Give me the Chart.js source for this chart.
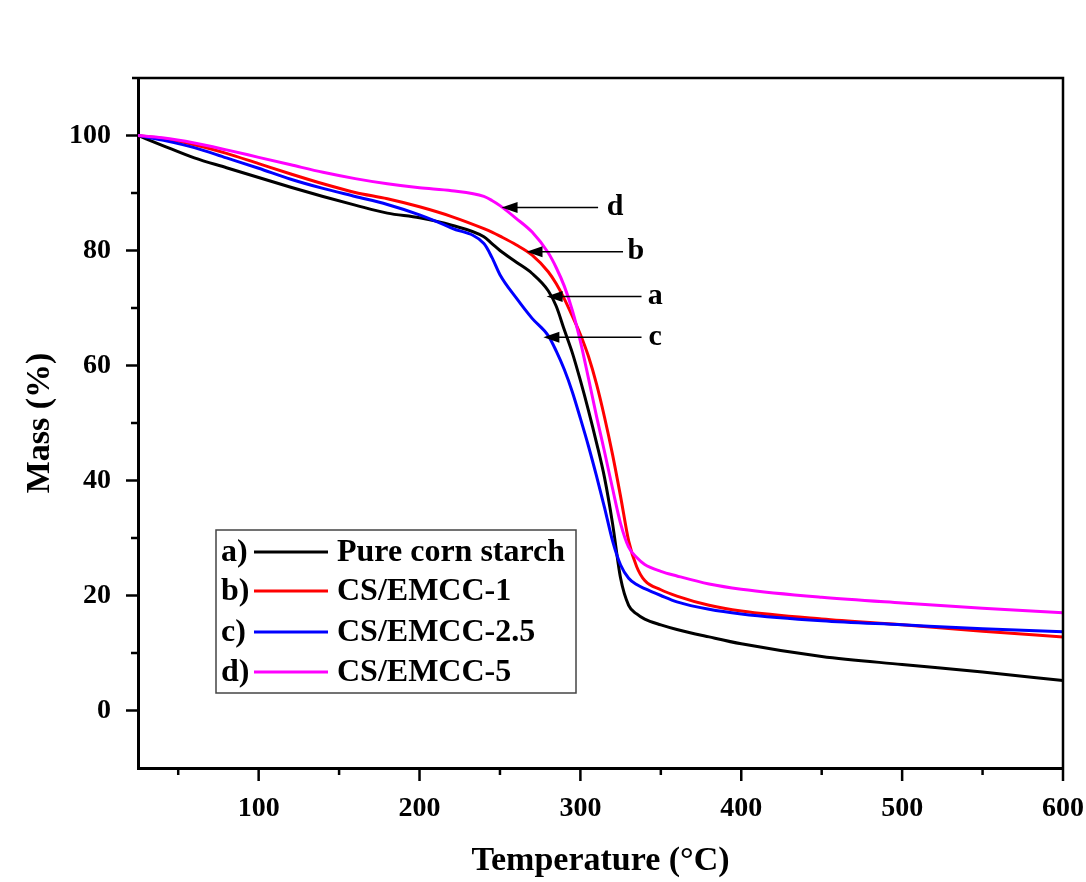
<!DOCTYPE html>
<html>
<head>
<meta charset="utf-8">
<script src="https://cdn.jsdelivr.net/npm/chart.js@4.4.1/dist/chart.umd.min.js"></script>
<style>
  html, body { margin: 0; padding: 0; background: #ffffff; }
  #wrap { width: 1086px; height: 882px; position: relative; }
</style>
</head>
<body>
<div id="wrap"><canvas id="c" width="1086" height="882"></canvas></div>
<script>
// ---- data ----
const temps = [25, 40, 60, 80, 100, 120, 140, 160, 180, 200, 220, 240, 245, 250, 260, 270, 280, 285, 290, 295, 300, 305, 310, 315, 320, 325, 330, 335, 340, 350, 360, 380, 400, 450, 500, 550, 600];
const massPure = [100, 98.3, 96.1, 94.4, 92.7, 91.0, 89.4, 87.9, 86.5, 85.7, 84.4, 82.4, 81.2, 80.0, 78.0, 76.0, 73.0, 70.3, 66.2, 62.2, 57.4, 52.2, 46.6, 40.5, 32.5, 23.0, 18.3, 16.8, 15.9, 14.9, 14.1, 12.8, 11.6, 9.4, 8.0, 6.7, 5.2];
const massEmcc1 = [100, 99.5, 98.4, 96.9, 95.1, 93.3, 91.6, 90.1, 89.0, 87.6, 85.9, 83.8, 83.2, 82.5, 81.0, 79.2, 76.3, 74.2, 71.6, 68.6, 65.4, 61.6, 56.8, 51.0, 44.5, 37.2, 29.5, 25.0, 22.6, 21.0, 19.9, 18.3, 17.3, 15.9, 14.9, 13.8, 12.8];
const massEmcc25 = [100, 99.2, 97.9, 96.1, 94.3, 92.4, 90.8, 89.4, 88.0, 86.2, 83.9, 81.2, 78.8, 75.8, 71.8, 68.2, 65.2, 62.5, 59.3, 55.4, 50.8, 46.0, 40.8, 35.3, 29.5, 25.3, 23.0, 21.9, 21.2, 20.0, 18.9, 17.6, 16.8, 15.6, 14.9, 14.2, 13.7];
const massEmcc5 = [100, 99.6, 98.7, 97.5, 96.2, 94.9, 93.6, 92.5, 91.6, 90.9, 90.4, 89.4, 88.7, 87.8, 85.6, 83.2, 79.6, 77.0, 73.8, 69.6, 64.2, 57.8, 51.2, 45.0, 38.6, 32.5, 28.4, 26.6, 25.4, 24.2, 23.4, 22.0, 21.1, 19.7, 18.7, 17.8, 17.0];

const seriesNames = ['Pure corn starch', 'CS/EMCC-1', 'CS/EMCC-2.5', 'CS/EMCC-5'];
const seriesTags = ['a)', 'b)', 'c)', 'd)'];
const seriesColors = ['#000000', '#ff0000', '#0000ff', '#ff00ff'];

const xTickValues = [100, 200, 300, 400, 500, 600];
const xMinorValues = [50, 150, 250, 350, 450, 550];
const yTickValues = [0, 20, 40, 60, 80, 100];
const yMinorValues = [10, 30, 50, 70, 90];

// arrow annotations (data coordinates)
const arrowLabels = ['d', 'b', 'a', 'c'];
const arrowTipX = [251, 266.5, 279, 277];
const arrowTipY = [87.5, 79.8, 72.0, 64.9];
const arrowEndX = [311, 326.5, 338, 338];
const arrowLabelX = [321.5, 334.5, 346.5, 346.5];

const SERIF = '"Liberation Serif", "Times New Roman", serif';

const allMass = [massPure, massEmcc1, massEmcc25, massEmcc5];
const datasets = allMass.map((arr, i) => ({
  label: seriesNames[i],
  data: temps.map((t, j) => ({ x: t, y: arr[j] })),
  borderColor: seriesColors[i],
  backgroundColor: seriesColors[i],
  borderWidth: 3,
  pointRadius: 0,
  cubicInterpolationMode: 'monotone',
  fill: false
}));
datasets.reverse();

const decor = {
  id: 'decor',
  afterDatasetsDraw(chart) {
    const ctx = chart.ctx;
    const xs = chart.scales.x, ys = chart.scales.y;
    const a = chart.chartArea;
    ctx.save();
    // frame top/right
    ctx.strokeStyle = '#000';
    ctx.lineWidth = 2.5;
    ctx.beginPath();
    ctx.moveTo(a.left - 6, a.top);
    ctx.lineTo(a.right, a.top);
    ctx.lineTo(a.right, a.bottom);
    ctx.stroke();
    // ticks
    xTickValues.forEach(v => {
      const px = xs.getPixelForValue(v);
      ctx.beginPath(); ctx.moveTo(px, a.bottom); ctx.lineTo(px, a.bottom + 13); ctx.stroke();
    });
    xMinorValues.forEach(v => {
      const px = xs.getPixelForValue(v);
      ctx.beginPath(); ctx.moveTo(px, a.bottom); ctx.lineTo(px, a.bottom + 7); ctx.stroke();
    });
    yTickValues.forEach(v => {
      const py = ys.getPixelForValue(v);
      ctx.beginPath(); ctx.moveTo(a.left, py); ctx.lineTo(a.left - 12, py); ctx.stroke();
    });
    yMinorValues.forEach(v => {
      const py = ys.getPixelForValue(v);
      ctx.beginPath(); ctx.moveTo(a.left, py); ctx.lineTo(a.left - 7, py); ctx.stroke();
    });
    // arrows
    ctx.lineWidth = 1.5;
    ctx.fillStyle = '#000';
    ctx.font = 'bold 30px ' + SERIF;
    ctx.textAlign = 'center';
    ctx.textBaseline = 'middle';
    arrowLabels.forEach((lab, i) => {
      const tx = xs.getPixelForValue(arrowTipX[i]);
      const ty = ys.getPixelForValue(arrowTipY[i]);
      const ex = xs.getPixelForValue(arrowEndX[i]);
      ctx.beginPath(); ctx.moveTo(tx + 10, ty); ctx.lineTo(ex, ty); ctx.stroke();
      ctx.beginPath();
      ctx.moveTo(tx, ty); ctx.lineTo(tx + 16, ty - 5.5); ctx.lineTo(tx + 16, ty + 5.5); ctx.closePath();
      ctx.fill();
      ctx.fillText(lab, xs.getPixelForValue(arrowLabelX[i]), ty);
    });
    // legend box
    const lx = 216, ly = 530, lw = 360, lh = 163;
    ctx.fillStyle = '#fff';
    ctx.fillRect(lx, ly, lw, lh);
    ctx.strokeStyle = '#444';
    ctx.lineWidth = 1.5;
    ctx.strokeRect(lx, ly, lw, lh);
    const rowY = [552, 591, 632, 672];
    ctx.font = 'bold 32px ' + SERIF;
    ctx.textAlign = 'left';
    ctx.textBaseline = 'middle';
    seriesNames.forEach((name, i) => {
      const y = rowY[i];
      ctx.fillStyle = '#000';
      ctx.fillText(seriesTags[i], 221, y + 1);
      ctx.strokeStyle = seriesColors[i];
      ctx.lineWidth = 3;
      ctx.beginPath(); ctx.moveTo(254, y); ctx.lineTo(328, y); ctx.stroke();
      ctx.fillText(name, 337, y + 1);
    });
    ctx.restore();
  }
};

new Chart(document.getElementById('c'), {
  type: 'line',
  data: { datasets },
  options: {
    responsive: false,
    animation: false,
    layout: { padding: { top: 78, right: 23, left: 0, bottom: 0 } },
    plugins: { legend: { display: false }, tooltip: { enabled: false } },
    scales: {
      x: {
        type: 'linear',
        min: 25, max: 600,
        afterFit(s) { s.height = 114; s.paddingLeft = 0; s.paddingRight = 0; },
        afterBuildTicks(s) { s.ticks = xTickValues.map(v => ({ value: v })); },
        grid: { display: false, drawTicks: false },
        border: { display: true, color: '#000', width: 3 },
        ticks: { color: '#000', padding: 24, maxRotation: 0, autoSkip: false,
                 font: { family: SERIF, size: 28, weight: 'bold' } },
        title: { display: true, text: 'Temperature (°C)', color: '#000',
                 font: { family: SERIF, size: 34, weight: 'bold' }, padding: { top: 0, bottom: 0 } }
      },
      y: {
        type: 'linear',
        min: -10, max: 110,
        afterFit(s) { s.width = 138; s.paddingTop = 0; s.paddingBottom = 0; },
        afterBuildTicks(s) { s.ticks = yTickValues.map(v => ({ value: v })); },
        grid: { display: false, drawTicks: false },
        border: { display: true, color: '#000', width: 3 },
        ticks: { color: '#000', padding: 27, autoSkip: false,
                 font: { family: SERIF, size: 28, weight: 'bold' } },
        title: { display: true, text: 'Mass (%)', color: '#000',
                 font: { family: SERIF, size: 34, weight: 'bold' }, padding: { top: 20, bottom: 0 } }
      }
    }
  },
  plugins: [decor]
});
</script>
</body>
</html>
